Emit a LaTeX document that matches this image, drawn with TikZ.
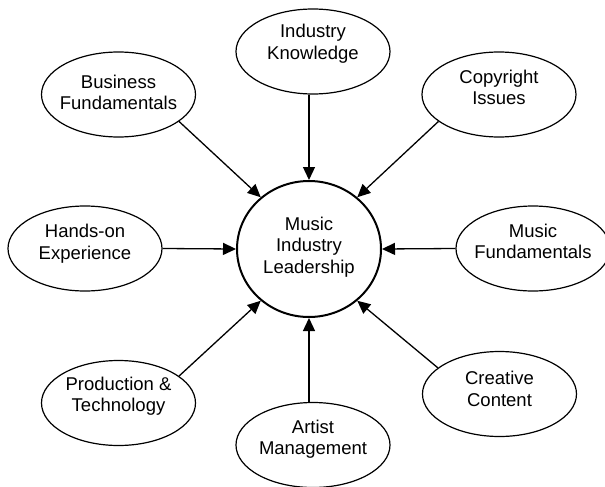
\documentclass[tikz,border=0pt]{standalone}
\usepackage{fontspec}
\setmainfont{Liberation Sans}
\usetikzlibrary{shapes.geometric,arrows.meta}
\begin{document}
\begin{tikzpicture}[x=1pt,y=-1pt,
  el/.style={draw,ellipse,line width=1.2pt,inner sep=0pt,minimum width=154pt,minimum height=85pt},
  hub/.style={draw,ellipse,line width=2pt,inner sep=0pt,minimum width=144pt,minimum height=136pt},
  txt/.style={align=center,inner sep=0pt,font=\fontsize{18.5}{21.5}\selectfont},
  arr/.style={line width=1.3pt,-{Triangle[length=13pt,width=12pt]}}]
\useasboundingbox (0,0) rectangle (605,487);
\node[hub] (c) at (309,249) {};
\node[txt] (ct) at ([yshift=2pt]c) {Music\\Industry\\Leadership};
\node[el] (ik) at (313,51.5) {};
\node[txt] (ikt) at ([yshift=8pt]ik) {Industry\\Knowledge};
\node[el] (bf) at (118.5,94.5) {};
\node[txt] (bft) at ([yshift=2pt]bf) {Business\\Fundamentals};
\node[el] (ci) at (499,94.5) {};
\node[txt] (cit) at ([yshift=7pt]ci) {Copyright\\Issues};
\node[el] (he) at (85,248.5) {};
\node[txt] (het) at ([yshift=5pt]he) {Hands-on\\Experience};
\node[el] (mf) at (533,248.5) {};
\node[txt] (mft) at ([yshift=7pt]mf) {Music\\Fundamentals};
\node[el] (pt) at (118.5,403) {};
\node[txt] (ptt) at ([yshift=7pt]pt) {Production \&\\Technology};
\node[el] (am) at (313,445) {};
\node[txt] (amt) at ([yshift=6pt]am) {Artist\\Management};
\node[el] (cc) at (499.5,394) {};
\node[txt] (cct) at ([yshift=5pt]cc) {Creative\\Content};
\draw[arr] (ik.south -| c) -- (c.north);
\draw[arr] (am.north -| c) -- (c.south);
\draw[arr] (he.east) -- (c.west);
\draw[arr] (mf.west) -- (c.east);
\draw[arr] (bf.-24) -- (c.133);
\draw[arr] (ci.204) -- (c.47);
\draw[arr] (pt.24) -- (c.227);
\draw[arr] (cc.157) -- (c.313);
\end{tikzpicture}
\end{document}
